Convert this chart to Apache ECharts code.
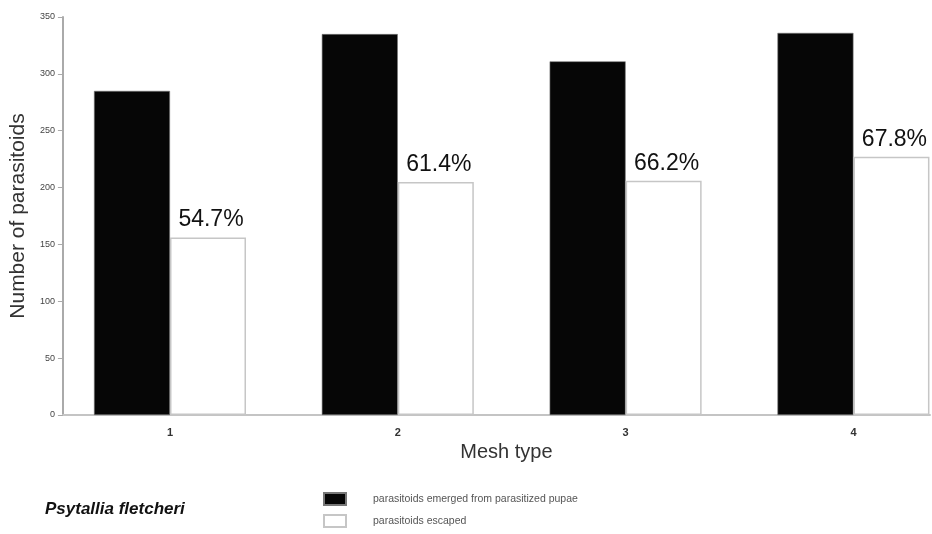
<!DOCTYPE html>
<html>
<head>
<meta charset="utf-8">
<script src="https://cdn.jsdelivr.net/npm/echarts@6/dist/echarts.min.js"></script>
<style>html,body{margin:0;padding:0;background:#fff}#c{width:932px;height:534px}</style>
</head>
<body>
<div id="c"></div>
<script>
const categories = [1, 2, 3, 4];
const emerged = [285, 335, 311, 336];
const escaped = [156, 205, 206, 227];
const escapedPct = ['54.7%', '61.4%', '66.2%', '67.8%'];
const yTicks = [0, 50, 100, 150, 200, 250, 300, 350];

const chart = echarts.init(document.getElementById('c'), null, {renderer: 'canvas'});
const font = 'Liberation Sans, Arial, sans-serif';
chart.setOption({
  animation: false,
  backgroundColor: '#fff',
  title: {
    text: 'Psytallia fletcheri',
    left: 40, top: 496,
    textStyle: {fontFamily: font, fontSize: 17, fontWeight: 'bold', fontStyle: 'italic', color: '#111'}
  },
  legend: {
    orient: 'vertical',
    left: 323, top: 492,
    padding: 0,
    itemWidth: 22, itemHeight: 12, itemGap: 8,
    textStyle: {fontFamily: font, fontSize: 10.5, color: '#555', padding: [0, 0, 0, 22]},
    data: [
      {name: 'parasitoids emerged from parasitized pupae', icon: 'rect'},
      {name: 'parasitoids escaped', icon: 'rect'}
    ]
  },
  grid: {left: 57, right: 2, top: 17, bottom: 119, containLabel: false},
  xAxis: {
    type: 'value',
    min: 0.53, max: 4.336,
    name: 'Mesh type',
    nameLocation: 'middle',
    nameGap: 25,
    nameTextStyle: {fontFamily: font, fontSize: 20, color: '#333', padding: [0, 0, 0, 20]},
    axisLine: {show: true, lineStyle: {color: '#c4c4c4', width: 2}},
    axisTick: {show: false},
    splitLine: {show: false},
    axisLabel: {customValues: categories, fontFamily: font, fontSize: 11, fontWeight: 'bold', color: '#333', margin: 12}
  },
  yAxis: {
    type: 'value',
    min: 0, max: 350, interval: 50,
    name: 'Number of parasitoids',
    nameLocation: 'middle',
    nameGap: 25,
    nameTextStyle: {fontFamily: font, fontSize: 21, color: '#333'},
    axisLine: {show: true, lineStyle: {color: '#aaa', width: 2}},
    axisTick: {show: true, length: 5, lineStyle: {color: '#aaa'}},
    splitLine: {show: false},
    axisLabel: {fontFamily: font, fontSize: 9, color: '#444', margin: 8, customValues: yTicks}
  },
  series: [
    {
      name: 'parasitoids emerged from parasitized pupae',
      type: 'bar',
      barWidth: 76, barGap: '0%',
      itemStyle: {color: '#060606', borderColor: '#777', borderWidth: 0.6},
      data: categories.map((c, i) => [c, emerged[i]])
    },
    {
      name: 'parasitoids escaped',
      type: 'bar',
      barWidth: 76, barGap: '0%',
      itemStyle: {color: '#fff', borderColor: '#c6c6c6', borderWidth: 1.5},
      label: {
        show: true, position: 'top', distance: 6, offset: [3, 0],
        fontFamily: font, fontSize: 23, color: '#111',
        formatter: p => escapedPct[p.dataIndex]
      },
      data: categories.map((c, i) => [c, escaped[i]])
    }
  ]
});
</script>
</body>
</html>
